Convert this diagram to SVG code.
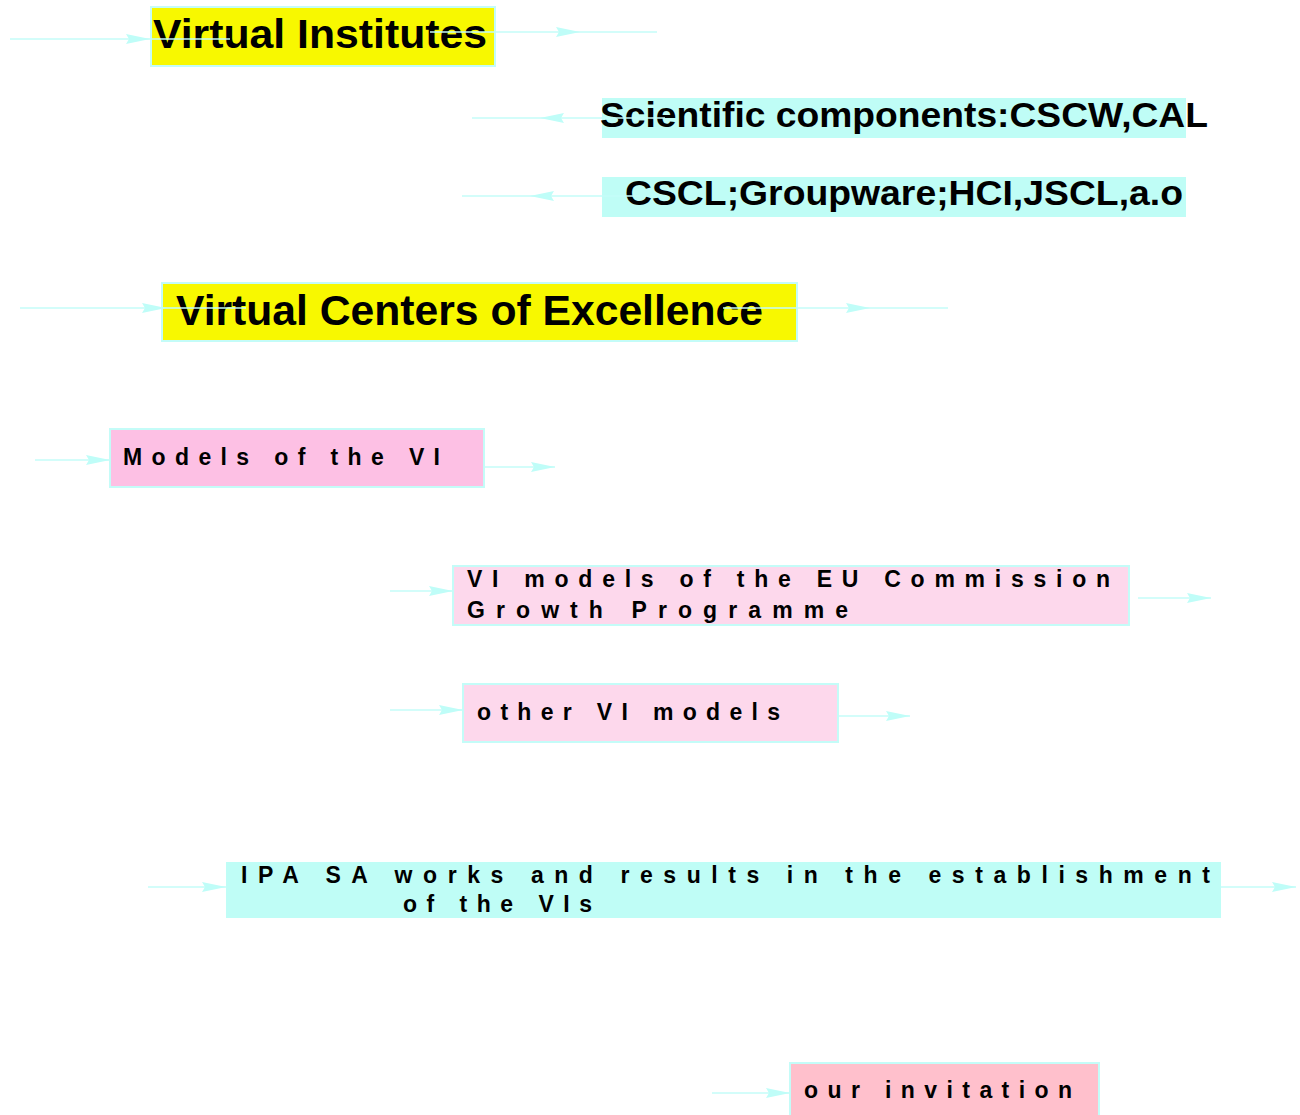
<svg xmlns="http://www.w3.org/2000/svg" width="1300" height="1115" viewBox="0 0 1300 1115">
  <style>
    .box { stroke: #c4fcf8; stroke-width: 2; }
    .yellow { fill: #f8f800; }
    .cyan { fill: #bffdf6; }
    .pink { fill: #fdc0e4; }
    .lpink { fill: #fdd8ec; }
    .rose { fill: #ffc0cc; }
    .big { font-family: "Liberation Sans", Arial, sans-serif; font-weight: bold; fill: #000; }
    .sp { font-family: "Liberation Sans", Arial, sans-serif; font-weight: bold; fill: #000; font-size: 23px; }
    .conn { fill: none; stroke: #c4fcf8; stroke-width: 1.5; }
  </style>
  <defs>
    <marker id="ah" markerUnits="userSpaceOnUse" markerWidth="24" markerHeight="12" viewBox="0 0 24 12" refX="24" refY="6" orient="auto">
      <path d="M0,1 L24,6 L0,11 L3,6 z" fill="#bffdf8"/>
    </marker>
  </defs>

  <g id="node-virtual-institutes">
    <rect class="box yellow" x="151" y="7" width="344" height="59"/>
    <text class="big" x="153" y="48" font-size="41" textLength="334" lengthAdjust="spacingAndGlyphs">Virtual Institutes</text>
  </g>
  <g id="node-scientific">
    <rect class="box cyan" x="602" y="98" width="584" height="40" style="stroke:none"/>
    <text class="big" x="600" y="127" font-size="35" textLength="608" lengthAdjust="spacingAndGlyphs">Scientific components:CSCW,CAL</text>
  </g>
  <g id="node-cscl">
    <rect class="box cyan" x="602" y="177" width="584" height="40" style="stroke:none"/>
    <text class="big" x="625" y="205" font-size="35" textLength="558" lengthAdjust="spacingAndGlyphs">CSCL;Groupware;HCI,JSCL,a.o</text>
  </g>
  <g id="node-vce">
    <rect class="box yellow" x="162" y="283" width="635" height="58"/>
    <text class="big" x="176" y="325" font-size="42" textLength="587" lengthAdjust="spacingAndGlyphs">Virtual Centers of Excellence</text>
  </g>
  <g id="node-models">
    <rect class="box pink" x="110" y="429" width="374" height="58"/>
    <text class="sp" x="123" y="465" textLength="317" lengthAdjust="spacing">Models of the VI</text>
  </g>
  <g id="node-eu">
    <rect class="box lpink" x="453" y="566" width="676" height="59"/>
    <text class="sp" x="467" y="587" textLength="643" lengthAdjust="spacing">VI models of the EU Commission</text>
    <text class="sp" x="467" y="618" textLength="381" lengthAdjust="spacing">Growth Programme</text>
  </g>
  <g id="node-other">
    <rect class="box lpink" x="463" y="684" width="375" height="58"/>
    <text class="sp" x="477" y="720" textLength="303" lengthAdjust="spacing">other VI models</text>
  </g>
  <g id="node-ipa">
    <rect class="box cyan" x="226" y="862" width="995" height="56" style="stroke:none"/>
    <text class="sp" x="241" y="883" textLength="969" lengthAdjust="spacing">IPA SA works and results in the establishment</text>
    <text class="sp" x="403" y="912" textLength="189" lengthAdjust="spacing">of the VIs</text>
  </g>
  <g id="node-invitation">
    <rect class="box rose" x="790" y="1063" width="309" height="60"/>
    <text class="sp" x="804" y="1098" textLength="268" lengthAdjust="spacing">our invitation</text>
  </g>

  <g id="connectors">
    <path class="conn" d="M10,39 L150,39 L230,39" marker-mid="url(#ah)"/>
    <path class="conn" d="M430,32 L580,32 L657,32" marker-mid="url(#ah)"/>
    <path class="conn" d="M665,118 L540,118 L472,118" marker-mid="url(#ah)"/>
    <path class="conn" d="M640,196 L530,196 L462,196" marker-mid="url(#ah)"/>
    <path class="conn" d="M20,308 L166,308 L246,308" marker-mid="url(#ah)"/>
    <path class="conn" d="M723,308 L870,308 L948,308" marker-mid="url(#ah)"/>
    <path class="conn" d="M35,460 L110,460" marker-end="url(#ah)"/>
    <path class="conn" d="M484,467 L555,467" marker-end="url(#ah)"/>
    <path class="conn" d="M390,591 L453,591" marker-end="url(#ah)"/>
    <path class="conn" d="M1138,598 L1211,598" marker-end="url(#ah)"/>
    <path class="conn" d="M390,710 L463,710" marker-end="url(#ah)"/>
    <path class="conn" d="M838,716 L910,716" marker-end="url(#ah)"/>
    <path class="conn" d="M148,887 L226,887" marker-end="url(#ah)"/>
    <path class="conn" d="M1221,887 L1296,887" marker-end="url(#ah)"/>
    <path class="conn" d="M712,1093 L790,1093" marker-end="url(#ah)"/>
  </g>
</svg>
